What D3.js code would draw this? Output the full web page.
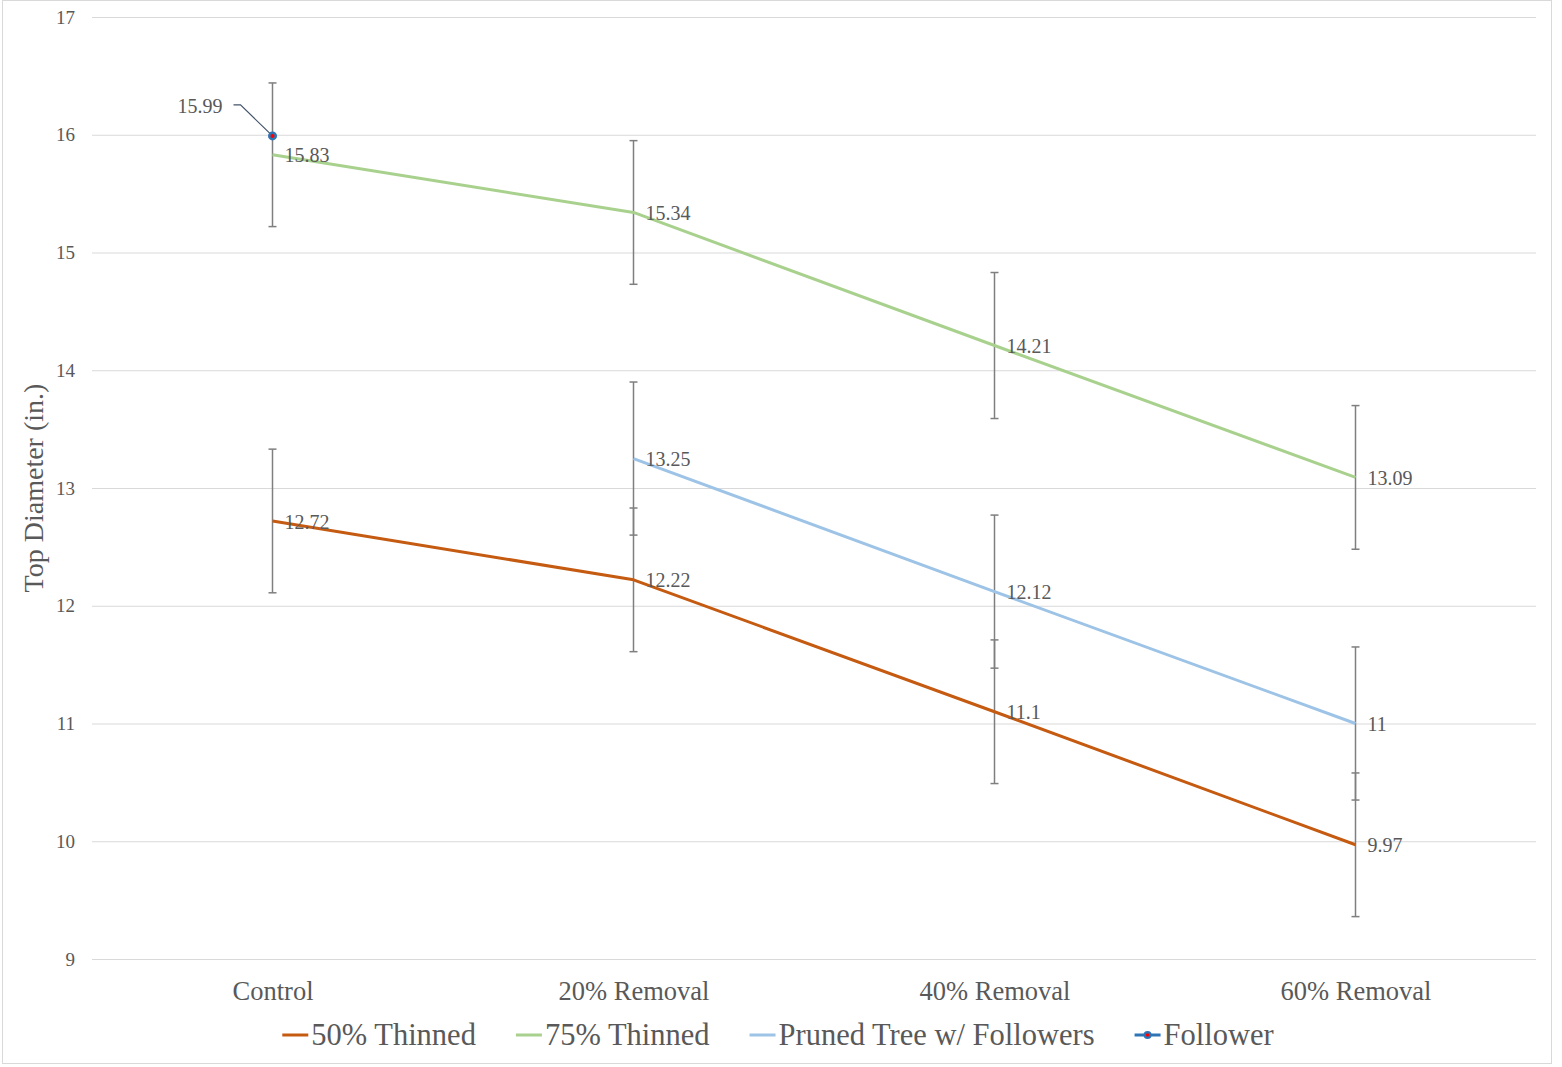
<!DOCTYPE html>
<html><head><meta charset="utf-8">
<script src="https://cdn.jsdelivr.net/npm/d3@7"></script>
<style>
body{margin:0;background:#fff;}
text{font-family:"Liberation Serif","DejaVu Serif",serif;fill:#595959;}
</style></head>
<body><svg id="c" width="1562" height="1067"></svg>
<script>
const categories = ["Control","20% Removal","40% Removal","60% Removal"];
const yTicks = [9,10,11,12,13,14,15,16,17];
const thinned50 = [12.72,12.22,11.1,9.97];
const thinned50Err = [0.61,0.61,0.61,0.61];
const thinned75 = [15.83,15.34,14.21,13.09];
const thinned75Err = [0.61,0.61,0.62,0.61];
const pruned = [null,13.25,12.12,11];
const prunedErr = [null,0.65,0.65,0.65];
const follower = [15.99,null,null,null];
const seriesNames = ["50% Thinned","75% Thinned","Pruned Tree w/ Followers","Follower"];
const colors = ["#C55A11","#A9D18E","#9DC3E6","#2E75B6"];

const svg = d3.select("#c");
svg.append("rect").attr("x",2.5).attr("y",0.5).attr("width",1549).attr("height",1063)
  .attr("fill","#fff").attr("stroke","#d9d9d9");

const x = d3.scalePoint().domain(categories).range([92,1536]).padding(0.5);
const y = d3.scaleLinear().domain([9,17]).range([959,17]);

const yAxis = d3.axisLeft(y).tickValues(yTicks).tickSize(-1444).tickPadding(17).tickFormat(d3.format("d"));
const gy = svg.append("g").attr("transform","translate(92,0)").call(yAxis);
gy.select(".domain").remove();
gy.selectAll(".tick line").attr("stroke","#d9d9d9").attr("stroke-width",1);
gy.selectAll(".tick text").style("font-size","19px").attr("fill","#595959");

const xAxis = d3.axisBottom(x).tickSize(0).tickPadding(22);
const gx = svg.append("g").attr("transform","translate(0,959)").call(xAxis);
gx.select(".domain").remove();
gx.selectAll(".tick text").style("font-size","26.5px").attr("fill","#595959").attr("dy","0.71em").attr("y",22);

svg.append("text").attr("transform","translate(37,488) rotate(-90)")
  .attr("text-anchor","middle").attr("dominant-baseline","middle")
  .style("font-size","28px").text("Top Diameter (in.)");

const series = [
  {vals:thinned50, err:thinned50Err, color:colors[0]},
  {vals:thinned75, err:thinned75Err, color:colors[1]},
  {vals:pruned, err:prunedErr, color:colors[2]}
];

const line = d3.line().defined(d=>d.v!=null).x(d=>x(d.c)).y(d=>y(d.v));

const eb = svg.append("g");
const errBars = [];
series.forEach(s=>s.vals.forEach((v,i)=>{ if(v!=null) errBars.push({c:categories[i],v,e:s.err[i]}); }));
errBars.forEach(d=>{
  const cx=x(d.c);
  eb.append("line").attr("x1",cx).attr("x2",cx).attr("y1",y(d.v+d.e)).attr("y2",y(d.v-d.e))
    .attr("stroke","#7f7f7f").attr("stroke-width",1.5);
  [d.v+d.e,d.v-d.e].forEach(t=>eb.append("line").attr("x1",cx-4).attr("x2",cx+4).attr("y1",y(t)).attr("y2",y(t))
    .attr("stroke","#7f7f7f").attr("stroke-width",1.5));
});

series.forEach(s=>{
  const data = s.vals.map((v,i)=>({c:categories[i],v}));
  svg.append("path").datum(data).attr("d",line).attr("fill","none")
    .attr("stroke",s.color).attr("stroke-width",3).attr("stroke-linejoin","round");
  data.filter(d=>d.v!=null).forEach(d=>{
    svg.append("text").attr("x",x(d.c)+12).attr("y",y(d.v)+3).attr("dominant-baseline","middle")
      .style("font-size","20px").text(d.v);
  });
});

follower.forEach((v,i)=>{
  if(v==null) return;
  const cx=x(categories[i]), cy=y(v);
  svg.append("path").attr("d",`M${cx},${cy} L${cx-32},${cy-31} L${cx-39},${cy-31}`)
    .attr("fill","none").attr("stroke","#44546A").attr("stroke-width",1.2);
  svg.append("circle").attr("cx",cx).attr("cy",cy).attr("r",4.5).attr("fill",colors[3]);
  svg.append("circle").attr("cx",cx).attr("cy",cy).attr("r",2).attr("fill","#FF0000");
  svg.append("text").attr("x",cx-50).attr("y",cy-28).attr("text-anchor","end").attr("dominant-baseline","middle")
    .style("font-size","20px").text(v);
});

const lg = svg.append("g");
let lx = 0;
seriesNames.forEach((n,i)=>{
  const g = lg.append("g").attr("transform",`translate(${lx},0)`);
  g.append("line").attr("x1",0).attr("x2",26).attr("y1",0).attr("y2",0).attr("stroke",colors[i]).attr("stroke-width",3);
  if(i===3){
    g.append("circle").attr("cx",13).attr("cy",0).attr("r",4).attr("fill",colors[3]);
    g.append("circle").attr("cx",13).attr("cy",0).attr("r",1.8).attr("fill","#FF0000");
  }
  const t = g.append("text").attr("x",29).attr("y",3).attr("dominant-baseline","middle").style("font-size","30.5px").text(n);
  const w = t.node().getComputedTextLength();
  lx += 29 + w + 40;
});
const totalW = lx - 40;
lg.attr("transform",`translate(${778 - totalW/2},1035)`);
</script></body></html>
